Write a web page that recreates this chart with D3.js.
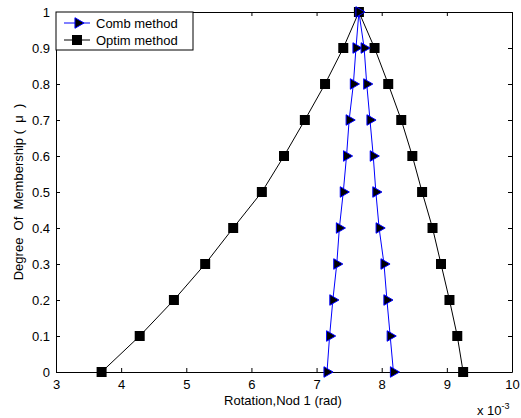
<!DOCTYPE html>
<html>
<head>
<meta charset="utf-8">
<script src="https://cdn.jsdelivr.net/npm/d3@7"></script>
<style>
    body { margin: 0; background: #fff; }
    svg { display: block; font-family: "Liberation Sans", Arial, sans-serif; }
</style>
</head>
<body>
<svg id="chart" width="521" height="418"></svg>
<script>
// membership levels, going up the left branch then down the right branch
const membership = [0, 0.1, 0.2, 0.3, 0.4, 0.5, 0.6, 0.7, 0.8, 0.9, 1,
                    0.9, 0.8, 0.7, 0.6, 0.5, 0.4, 0.3, 0.2, 0.1, 0];
// rotation values (x 10^-3 rad)
const combRotation = [7.16, 7.20, 7.25, 7.31, 7.35, 7.41, 7.46, 7.50, 7.565, 7.605, 7.65,
                      7.73, 7.77, 7.82, 7.87, 7.91, 7.96, 8.035, 8.08, 8.13, 8.18];
const optimRotation = [3.70, 4.285, 4.81, 5.29, 5.72, 6.16, 6.50, 6.82, 7.13, 7.41, 7.65,
                       7.89, 8.10, 8.30, 8.47, 8.62, 8.78, 8.91, 9.04, 9.16, 9.25];
const xTicks = [3, 4, 5, 6, 7, 8, 9, 10];
const yTicks = [0, 0.1, 0.2, 0.3, 0.4, 0.5, 0.6, 0.7, 0.8, 0.9, 1];
const seriesNames = ["Comb method", "Optim method"];

const margin = {left: 56, right: 9, top: 12, bottom: 46};
const width = 521, height = 418;
const fontSize = "13px";
const svg = d3.select("#chart");

const x = d3.scaleLinear().domain([3, 10]).range([margin.left, width - margin.right]);
const y = d3.scaleLinear().domain([0, 1]).range([height - margin.bottom, margin.top]);

const tickLen = 4;
const fmtY = d => d === 0 || d === 1 ? String(d) : d.toFixed(1);

// axes with inward ticks on all four sides
const styleAxis = g => {
    g.select(".domain").attr("stroke", "#000");
    g.selectAll(".tick line").attr("stroke", "#000");
    g.selectAll("text").attr("fill", "#000").style("font-size", fontSize);
};
svg.append("g").attr("transform", `translate(0,${y(0)})`)
    .call(d3.axisBottom(x).tickValues(xTicks).tickSizeInner(-tickLen).tickSizeOuter(0).tickPadding(8).tickFormat(d3.format("d")))
    .call(styleAxis);
svg.append("g").attr("transform", `translate(0,${y(1)})`)
    .call(d3.axisTop(x).tickValues(xTicks).tickSizeInner(-tickLen).tickSizeOuter(0).tickFormat(""))
    .call(styleAxis);
svg.append("g").attr("transform", `translate(${x(3)},0)`)
    .call(d3.axisLeft(y).tickValues(yTicks).tickSizeInner(-tickLen).tickSizeOuter(0).tickPadding(6).tickFormat(fmtY))
    .call(styleAxis);
svg.append("g").attr("transform", `translate(${x(10)},0)`)
    .call(d3.axisRight(y).tickValues(yTicks).tickSizeInner(-tickLen).tickSizeOuter(0).tickFormat(""))
    .call(styleAxis);

const line = d3.line().x(d => x(d[0])).y(d => y(d[1]));
const tri = d3.symbol().type(d3.symbolTriangle).size(48);

function drawSeries(xs, color, kind) {
    const pts = xs.map((v, i) => [v, membership[i]]);
    svg.append("path").datum(pts)
        .attr("fill", "none").attr("stroke", color).attr("stroke-width", 1)
        .attr("d", line);
    const g = svg.append("g");
    if (kind === "square") {
        g.selectAll("rect").data(pts).join("rect")
            .attr("x", d => x(d[0]) - 5).attr("y", d => y(d[1]) - 5)
            .attr("width", 10).attr("height", 10).attr("fill", "#000");
    } else {
        g.selectAll("path").data(pts).join("path")
            .attr("d", tri)
            .attr("transform", d => `translate(${x(d[0])},${y(d[1])}) rotate(90)`)
            .attr("fill", "#000").attr("stroke", color).attr("stroke-width", 1);
    }
}

drawSeries(optimRotation, "#000", "square");
drawSeries(combRotation, "#0000ff", "triangle");

// legend
const legend = svg.append("g").attr("transform", `translate(${x(3)},${y(1)})`);
legend.append("rect").attr("width", 137).attr("height", 38)
    .attr("fill", "#fff").attr("stroke", "#000");
seriesNames.forEach((name, i) => {
    const ly = 11 + i * 17;
    const color = i === 0 ? "#0000ff" : "#000";
    legend.append("line").attr("x1", 8).attr("x2", 34).attr("y1", ly).attr("y2", ly)
        .attr("stroke", color);
    if (i === 0) {
        legend.append("path").attr("d", tri)
            .attr("transform", `translate(22,${ly}) rotate(90)`)
            .attr("fill", "#000").attr("stroke", color);
    } else {
        legend.append("rect").attr("x", 16).attr("y", ly - 5).attr("width", 10).attr("height", 10)
            .attr("fill", "#000");
    }
    legend.append("text").attr("x", 40).attr("y", ly + 5)
        .style("font-size", fontSize).text(name);
});

// axis labels
svg.append("text").attr("x", 283).attr("y", 405)
    .attr("text-anchor", "middle").style("font-size", fontSize)
    .text("Rotation,Nod 1 (rad)");
svg.append("text")
    .attr("transform", `translate(23,${(y(0) + y(1)) / 2}) rotate(-90)`)
    .attr("text-anchor", "middle").style("font-size", fontSize)
    .attr("xml:space", "preserve")
    .text("Degree  Of  Membership (  \u03bc  )");
const exp = svg.append("text").attr("x", 477).attr("y", 415).style("font-size", fontSize);
exp.append("tspan").text("x 10");
exp.append("tspan").attr("dy", -6).style("font-size", "9px").text("-3");
</script>
</body>
</html>
